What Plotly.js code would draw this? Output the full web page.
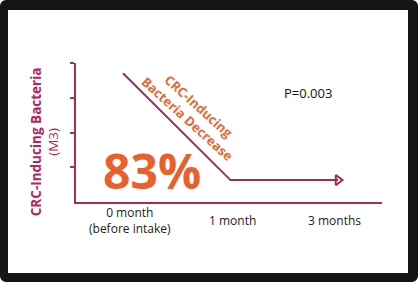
<!DOCTYPE html>
<html>
<head>
<meta charset="utf-8">
<script src="https://cdn.plot.ly/plotly-3.0.1.min.js"></script>
<style>
  html, body { margin: 0; padding: 0; background: #ffffff; }
  #wrap { position: relative; width: 418px; height: 282px; }
  #chart { position: absolute; left: 0; top: 0; width: 418px; height: 282px; }
  #frame { position: absolute; left: 0; top: 0; width: 418px; height: 282px; box-sizing: border-box;
           border-style: solid; border-color: #151515; border-width: 10px 10px 9px 8px; border-radius: 6px; pointer-events: none; }
</style>
</head>
<body>
<div id="wrap">
  <div id="chart"></div>
  <div id="frame"></div>
</div>
<script>
// Data
const timepoints = [0, 1, 2];
const tickLabels = ["0 month<br>(before intake)", "1 month", "3 months"];
const bacteriaLevel = [100, 17, 17];
const decreasePct = "83%";
const pValue = "P=0.003";
const yTickVals = [27, 54, 81, 108];

const axisColor = "#a82c55";
const lineColor = "#9a2f50";
const orange = "#e8602c";
const font = "Open Sans, Noto Sans, sans-serif";

const lastIdx = timepoints.length - 1;
const traces = [
  {
    x: timepoints, y: bacteriaLevel, type: "scatter", mode: "lines",
    line: { color: lineColor, width: 2 }, hoverinfo: "skip"
  },
  {
    x: [timepoints[lastIdx]], y: [bacteriaLevel[lastIdx]], type: "scatter", mode: "markers",
    marker: { symbol: "triangle-right-open", size: 9, color: lineColor, line: { color: lineColor, width: 2 } },
    hoverinfo: "skip"
  }
];

const labelShift = [7, 2, -4];
const annotations = tickLabels.map((t, i) => ({
  x: timepoints[i], xref: "x", y: 0, yref: "paper", yanchor: "middle", xanchor: "center",
  yshift: -18, xshift: labelShift[i], text: t, showarrow: false,
  font: { family: font, size: 12, color: "#222222" }
}));

annotations.push({
  x: 0, xref: "paper", y: 0.43, yref: "paper", xanchor: "center", yanchor: "middle",
  xshift: -31, textangle: -90, showarrow: false,
  text: "<b>CRC-Inducing Bacteria</b><br>(M3)",
  font: { family: font, size: 13.5, color: "#b0285a" }
});
annotations.push({
  x: 0.27, xref: "x", y: 24.5, yref: "y", xanchor: "center", yanchor: "middle",
  showarrow: false, text: "<b>" + decreasePct + "</b>", height: 42,
  font: { family: font, size: 48, color: orange }
});
annotations.push({
  x: 0.65, xref: "x", y: 69.2, yref: "y", xanchor: "center", yanchor: "middle",
  showarrow: false, textangle: 42, text: "<b>CRC-Inducing<br>Bacteria Decrease</b>",
  font: { family: font, size: 13, color: "#e46a35" }
});
annotations.push({
  x: 1.72, xref: "x", y: 84.7, yref: "y", xanchor: "center", yanchor: "middle",
  showarrow: false, text: pValue,
  font: { family: font, size: 13, color: "#111111" }
});

const layout = {
  width: 418, height: 282,
  margin: { l: 76, r: 36, t: 63, b: 80 },
  paper_bgcolor: "#ffffff", plot_bgcolor: "#ffffff",
  showlegend: false,
  xaxis: {
    range: [-0.437, 2.409], showgrid: false, zeroline: false,
    showline: true, linecolor: axisColor, linewidth: 2,
    showticklabels: false, ticks: "", fixedrange: true
  },
  yaxis: {
    range: [0, 108], showgrid: false, zeroline: false,
    showline: true, linecolor: axisColor, linewidth: 2,
    ticks: "outside", tickvals: yTickVals, ticklen: 4, tickwidth: 2, tickcolor: axisColor,
    showticklabels: false, fixedrange: true
  },
  annotations: annotations
};

Plotly.newPlot("chart", traces, layout, { displayModeBar: false, staticPlot: true });
</script>
</body>
</html>
